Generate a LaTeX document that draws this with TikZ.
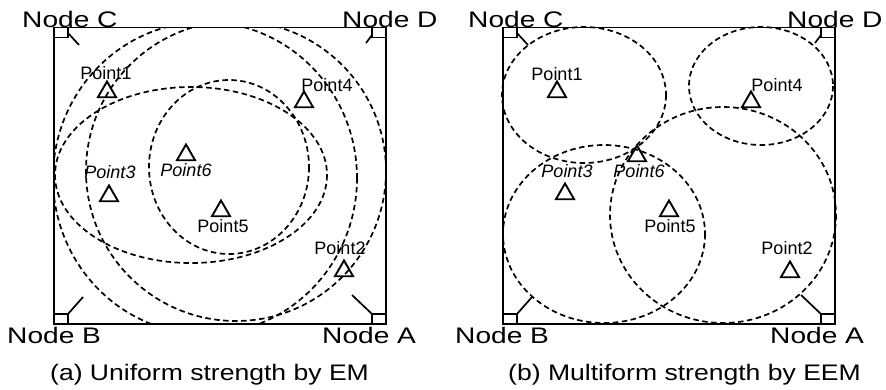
\documentclass[tikz,border=0pt]{standalone}
\usepackage{fontspec}
\setmainfont{Liberation Sans}
\newfontfamily\nodeF[FakeStretch=1.25]{Liberation Sans}
\newfontfamily\capF[FakeStretch=1.18]{Liberation Sans}
\usetikzlibrary{shapes.geometric}
\begin{document}
\begin{tikzpicture}[x=1pt,y=-1pt,
  frame/.style={line width=1.7pt},
  cov/.style={line width=1.7pt, dash pattern=on 5.5pt off 3.5pt},
  tri/.style={draw, regular polygon, regular polygon sides=3, minimum size=21pt, inner sep=0pt, line width=1.9pt},
  plab/.style={font=\fontsize{18}{18}\selectfont, inner sep=0pt},
  iplab/.style={font=\fontsize{18}{18}\selectfont\itshape, inner sep=0pt},
  nlab/.style={font=\fontsize{22.5}{22.5}\selectfont\nodeF, inner sep=0pt, anchor=base west},
  caplab/.style={font=\fontsize{22.5}{22.5}\selectfont\capF, inner sep=0pt, anchor=base west}]
\useasboundingbox (0,0) rectangle (886,389);
% ---------- (a) coverage (clipped to the field) ----------
\begin{scope}
  \clip (54,27.5) rectangle (386,324);
  \draw[cov] (205,178) ellipse [x radius=152, y radius=156];
  \draw[cov] (236,171) ellipse [x radius=150, y radius=150];
  \draw[cov] (191,175) ellipse [x radius=136, y radius=88];
  \draw[cov] (229,167) ellipse [x radius=80, y radius=87];
\end{scope}
% ---------- (b) coverage ----------
\draw[cov] (584,95) ellipse [x radius=82, y radius=68];
\draw[cov] (761,86) ellipse [x radius=72, y radius=59];
\draw[cov] (604,234) ellipse [x radius=101, y radius=89];
\draw[cov] (723,215) ellipse [x radius=113, y radius=108];
% ---------- panel frames ----------
\foreach \dx in {0,449}{
  \begin{scope}[xshift=\dx]
    \draw[frame] (54,27.5) rectangle (386,324);
    \draw[frame] (54,27.5) rectangle (68,37.5);
    \draw[frame] (372,27.5) rectangle (386,37.5);
    \draw[frame] (54,314) rectangle (68,324);
    \draw[frame] (372,314) rectangle (386,324);
    \draw[frame] (68,33) -- (79,45);
    \draw[frame] (372,35) -- (366,43);
    \draw[frame] (68,314) -- (83,297);
    \draw[frame] (372,314) -- (352,295);
  \end{scope}
}
% ---------- (a) points ----------
\node[tri] (a1) at (107,92) {};
\node[plab] (a1l) at (106,73) {Point1};
\node[tri] (a3) at (109,196) {};
\node[iplab] (a3l) at (110,172) {Point3};
\node[tri] (a6) at (186,155) {};
\node[iplab] (a6l) at (186,170) {Point6};
\node[tri] (a5) at (221,211) {};
\node[plab] (a5l) at (223,226) {Point5};
\node[tri] (a4) at (304,102) {};
\node[plab] (a4l) at (327,85) {Point4};
\node[tri] (a2) at (344,271) {};
\node[plab] (a2l) at (340,248) {Point2};
% ---------- (b) points ----------
\node[tri] (b1) at (557,92) {};
\node[plab] (b1l) at (557,74) {Point1};
\node[tri] (b4) at (751,102) {};
\node[plab] (b4l) at (777,85) {Point4};
\node[tri] (b6) at (637,156) {};
\node[iplab] (b6l) at (639,171) {Point6};
\node[tri] (b3) at (565,194) {};
\node[iplab] (b3l) at (567,171) {Point3};
\node[tri] (b5) at (669,211) {};
\node[plab] (b5l) at (670,226) {Point5};
\node[tri] (b2) at (790,272) {};
\node[plab] (b2l) at (787,248) {Point2};
% ---------- node labels ----------
\node[nlab] (aC) at (22,27) {Node C};
\node[nlab] (aD) at (342,27) {Node D};
\node[nlab] (aB) at (7,343) {Node B};
\node[nlab] (aA) at (322,343) {Node A};
\node[nlab] (bC) at (468,27) {Node C};
\node[nlab] (bD) at (787,27) {Node D};
\node[nlab] (bB) at (455,343) {Node B};
\node[nlab] (bA) at (770,343) {Node A};
% ---------- captions ----------
\node[caplab] (capa) at (50,380) {(a) Uniform strength by EM};
\node[caplab] (capb) at (508,380) {(b) Multiform strength by EEM};
\end{tikzpicture}
\end{document}
